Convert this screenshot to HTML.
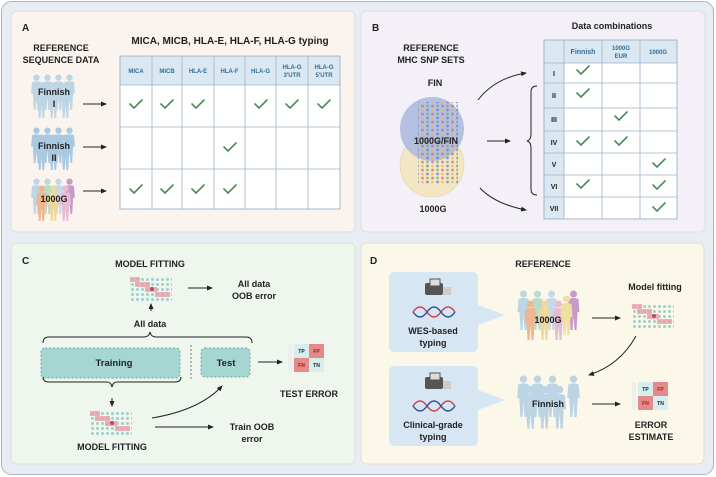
<!DOCTYPE html>
<html><head><meta charset="utf-8"><style>
html,body{margin:0;padding:0;background:#fff}
svg{display:block}
text{font-family:"Liberation Sans",sans-serif;font-weight:bold;fill:#222}
.h{font-size:10px}
.s{font-size:9px}
.th{font-size:6px;fill:#2f6f9a}
.ck{fill:none;stroke:#4c8c5c;stroke-width:1.6;stroke-linecap:round;stroke-linejoin:round}
.ln{stroke:#9fb3c8;stroke-width:0.8}
.ar{stroke:#222;stroke-width:1;fill:none;marker-end:url(#ah)}
</style></head><body>
<svg width="716" height="477" viewBox="0 0 716 477" xmlns="http://www.w3.org/2000/svg">
<defs>
<marker id="ah" markerWidth="6" markerHeight="6" refX="5" refY="3" orient="auto" markerUnits="userSpaceOnUse"><path d="M0,0.5 L6,3 L0,5.5 Z" fill="#222"/></marker>
<symbol id="p" viewBox="0 0 12 40"><circle cx="6" cy="4" r="3.5"/><path d="M1 9 Q6 7 11 9 L12 22 L10 22 L9 40 L7 40 L6 26 L5 40 L3 40 L2 22 L0 22 Z"/></symbol>
<pattern id="dots" width="5" height="5" patternUnits="userSpaceOnUse"><circle cx="2.5" cy="2.5" r="1.5" fill="#9fd0cc"/></pattern>
<pattern id="snp" width="10" height="8" patternUnits="userSpaceOnUse"><circle cx="2.5" cy="2" r="1.4" fill="#d45a9a"/><circle cx="7.5" cy="2" r="1.4" fill="#6ab06a"/><circle cx="2.5" cy="6" r="1.4" fill="#e0c040"/><circle cx="7.5" cy="6" r="1.4" fill="#7a6ad0"/></pattern>
<symbol id="mx" viewBox="0 0 42 24"><rect width="42" height="24" fill="url(#dots)"/><rect x="0" y="0" width="10" height="5" fill="#e8a0a8" opacity=".8"/><rect x="5" y="5" width="15" height="5" fill="#e8a0a8" opacity=".8"/><rect x="15" y="10" width="12" height="5" fill="#e8a0a8" opacity=".8"/><rect x="25" y="15" width="15" height="5" fill="#e8a0a8" opacity=".8"/><circle cx="22" cy="12" r="2" fill="#b05070"/></symbol>
<symbol id="cm" viewBox="0 0 36 34"><rect x="6" y="4" width="15" height="14" fill="#d7eef0"/><rect x="21" y="4" width="15" height="14" fill="#e58a8a"/><rect x="6" y="18" width="15" height="14" fill="#e58a8a"/><rect x="21" y="18" width="15" height="14" fill="#d7eef0"/><rect x="0" y="4" width="4" height="28" fill="#eee"/><text x="13.5" y="13" font-size="5" text-anchor="middle">TP</text><text x="28.5" y="13" font-size="5" text-anchor="middle" style="fill:#a02020">FP</text><text x="13.5" y="27" font-size="5" text-anchor="middle" style="fill:#a02020">FN</text><text x="28.5" y="27" font-size="5" text-anchor="middle">TN</text></symbol>
<symbol id="ck" viewBox="0 0 14 10"><path class="ck" d="M1 5 L5 9 L13 1"/></symbol>
</defs>
<rect x="1.5" y="1.5" width="712" height="473" rx="10" fill="#e8edf3" stroke="#a8b6c6"/>
<rect x="11" y="11" width="344" height="221" rx="6" fill="#fbf4ee" stroke="#e2ddd8"/>
<rect x="361" y="11" width="344" height="221" rx="6" fill="#f4f0f8" stroke="#e0dbe5"/>
<rect x="11" y="243" width="344" height="221" rx="6" fill="#eef6ee" stroke="#d9e3d9"/>
<rect x="361" y="243" width="343" height="221" rx="6" fill="#fbf8ea" stroke="#e3dfcd"/>

<text x="22" y="31" class="h">A</text>
<text x="230" y="44" class="h" text-anchor="middle">MICA, MICB, HLA-E, HLA-F, HLA-G typing</text>
<text x="61" y="51" class="s" text-anchor="middle">REFERENCE</text>
<text x="61" y="63" class="s" text-anchor="middle">SEQUENCE DATA</text>
<rect x="120" y="56" width="220" height="153" fill="#fff"/>
<rect x="120" y="56" width="220" height="29" fill="#dce8f1"/>
<g class="ln" fill="none"><rect x="120" y="56" width="220" height="153" stroke="#8fa8c0"/>
<path d="M120 85H340M120 127H340M120 169H340M152 56V209M182 56V209M214 56V209M245 56V209M276 56V209M308 56V209"/></g>
<g text-anchor="middle"><text x="136" y="73" class="th">MICA</text><text x="167" y="73" class="th">MICB</text><text x="198" y="73" class="th">HLA-E</text><text x="229.5" y="73" class="th">HLA-F</text><text x="260.5" y="73" class="th">HLA-G</text><text x="292" y="69" class="th">HLA-G</text><text x="292" y="77" class="th">3'UTR</text><text x="324" y="69" class="th">HLA-G</text><text x="324" y="77" class="th">5'UTR</text></g>
<use href="#ck" x="129" y="99" width="14" height="10"/><use href="#ck" x="160" y="99" width="14" height="10"/><use href="#ck" x="191" y="99" width="14" height="10"/><use href="#ck" x="254" y="99" width="14" height="10"/><use href="#ck" x="285" y="99" width="14" height="10"/><use href="#ck" x="317" y="99" width="14" height="10"/>
<use href="#ck" x="223" y="142" width="14" height="10"/>
<use href="#ck" x="129" y="184" width="14" height="10"/><use href="#ck" x="160" y="184" width="14" height="10"/><use href="#ck" x="191" y="184" width="14" height="10"/><use href="#ck" x="223" y="184" width="14" height="10"/>
<g fill="#bdd5e4"><use href="#p" x="31" y="74" width="11" height="36"/><use href="#p" x="42" y="74" width="11" height="36"/><use href="#p" x="53" y="74" width="11" height="36"/><use href="#p" x="64" y="74" width="11" height="36"/><use href="#p" x="36" y="82" width="11" height="36"/><use href="#p" x="48" y="82" width="11" height="36"/><use href="#p" x="60" y="82" width="11" height="36"/></g>
<g fill="#a9c9e2"><use href="#p" x="31" y="127" width="11" height="36"/><use href="#p" x="42" y="127" width="11" height="36"/><use href="#p" x="53" y="127" width="11" height="36"/><use href="#p" x="64" y="127" width="11" height="36"/><use href="#p" x="36" y="134" width="11" height="36"/><use href="#p" x="48" y="134" width="11" height="36"/><use href="#p" x="60" y="134" width="11" height="36"/></g>
<g><use href="#p" x="31" y="178" width="11" height="36" fill="#bcd6e6"/><use href="#p" x="42" y="178" width="11" height="36" fill="#b9dcc8"/><use href="#p" x="53" y="178" width="11" height="36" fill="#c7d9e8"/><use href="#p" x="64" y="178" width="11" height="36" fill="#c89ac8"/><use href="#p" x="36" y="185" width="11" height="36" fill="#eeb58f"/><use href="#p" x="48" y="185" width="11" height="36" fill="#f0d79a"/><use href="#p" x="60" y="185" width="11" height="36" fill="#e7bcd3"/></g>
<g text-anchor="middle" class="s"><text x="54" y="95">Finnish</text><text x="54" y="107">I</text><text x="54" y="149">Finnish</text><text x="54" y="161">II</text><text x="54" y="202">1000G</text></g>
<path class="ar" d="M83 104H106"/><path class="ar" d="M83 147H106"/><path class="ar" d="M83 191H106"/>

<text x="372" y="31" class="h">B</text>
<text x="612" y="29" class="s" text-anchor="middle">Data combinations</text>
<text x="431" y="51" class="s" text-anchor="middle">REFERENCE</text>
<text x="431" y="63" class="s" text-anchor="middle">MHC SNP SETS</text>
<text x="435" y="86" class="s" text-anchor="middle">FIN</text>
<circle cx="432" cy="165" r="32" fill="#f3e6c2" stroke="#e4d3a8" stroke-width=".6"/>
<circle cx="432" cy="129" r="32" fill="#a9b7df" fill-opacity=".85"/>
<rect x="418" y="102" width="40" height="82" fill="url(#snp)" opacity=".7"/>
<text x="436" y="144" class="s" text-anchor="middle">1000G/FIN</text>
<text x="433" y="212" class="s" text-anchor="middle">1000G</text>
<path class="ar" d="M478 100 Q495 78 526 73"/><path class="ar" d="M487 141H510"/><path class="ar" d="M480 188 Q495 204 526 210"/>
<path d="M537 86 Q531 86 531 92 V134 Q531 140 527 141 Q531 142 531 148 V189 Q531 195 537 195" fill="none" stroke="#222" stroke-width="1"/>
<rect x="544" y="40" width="133" height="179" fill="#fff"/>
<rect x="544" y="40" width="133" height="23" fill="#dce8f1"/>
<rect x="544" y="40" width="20" height="179" fill="#dce8f1"/>
<g class="ln" fill="none"><rect x="544" y="40" width="133" height="179" stroke="#8fa8c0"/><path d="M544 63H677M544 83H677M544 108H677M544 131H677M544 153H677M544 175H677M544 197H677M564 40V219M602 40V219M640 40V219"/></g>
<g text-anchor="middle"><text x="583" y="54" class="th" style="font-size:7px">Finnish</text><text x="621" y="50" class="th">1000G</text><text x="621" y="58" class="th">EUR</text><text x="658" y="54" class="th">1000G</text>
<g style="font-size:7px;font-weight:normal;fill:#557"><text x="554" y="76">I</text><text x="554" y="98">II</text><text x="554" y="122">III</text><text x="554" y="145">IV</text><text x="554" y="167">V</text><text x="554" y="189">VI</text><text x="554" y="211">VII</text></g></g>
<use href="#ck" x="576" y="65" width="14" height="10"/><use href="#ck" x="576" y="88" width="14" height="10"/><use href="#ck" x="614" y="111" width="14" height="10"/><use href="#ck" x="576" y="136" width="14" height="10"/><use href="#ck" x="614" y="136" width="14" height="10"/><use href="#ck" x="652" y="158" width="14" height="10"/><use href="#ck" x="576" y="179" width="14" height="10"/><use href="#ck" x="652" y="180" width="14" height="10"/><use href="#ck" x="652" y="202" width="14" height="10"/>

<text x="22" y="264" class="h">C</text>
<text x="150" y="267" class="s" text-anchor="middle">MODEL FITTING</text>
<use href="#mx" x="130" y="277" width="42" height="24"/>
<path class="ar" d="M188 288H212"/>
<text x="254" y="287" class="s" text-anchor="middle">All data</text>
<text x="254" y="299" class="s" text-anchor="middle">OOB error</text>
<path class="ar" d="M151 311V304"/>
<text x="150" y="327" class="s" text-anchor="middle">All data</text>
<path d="M43 343 Q43 337 49 337 H144 Q149 337 150 332 Q151 337 156 337 H246 Q252 337 252 343" fill="none" stroke="#222"/>
<rect x="41" y="348" width="139" height="30" rx="4" fill="#a6d6d2" stroke="#6aa9a4" stroke-dasharray="2 2"/>
<text x="114" y="366" class="s" text-anchor="middle" style="font-size:9.5px">Training</text>
<path d="M191 345V380" stroke="#777" stroke-dasharray="2 2"/>
<rect x="201" y="348" width="49" height="29" rx="4" fill="#a6d6d2" stroke="#6aa9a4" stroke-dasharray="2 2"/>
<text x="226" y="366" class="s" text-anchor="middle" style="font-size:9.5px">Test</text>
<path class="ar" d="M258 362H282"/>
<use href="#cm" x="288" y="340" width="36" height="34"/>
<text x="309" y="397" class="s" text-anchor="middle">TEST ERROR</text>
<path d="M43 377 Q43 382 49 382 H107 Q111 382 112 387 Q113 382 117 382 H175 Q181 382 181 377" fill="none" stroke="#222"/>
<path class="ar" d="M112 398V406"/>
<use href="#mx" x="90" y="411" width="42" height="24"/>
<text x="112" y="450" class="s" text-anchor="middle">MODEL FITTING</text>
<path class="ar" d="M152 418 Q200 410 222 386"/>
<path class="ar" d="M155 427H213"/>
<text x="252" y="430" class="s" text-anchor="middle">Train OOB</text>
<text x="252" y="442" class="s" text-anchor="middle">error</text>

<text x="370" y="264" class="h">D</text>
<text x="543" y="267" class="s" text-anchor="middle">REFERENCE</text>
<path d="M395 272H472Q478 272 478 278V305L505 315L478 325V346Q478 352 472 352H395Q389 352 389 346V278Q389 272 395 272Z" fill="#d6e6f3"/>
<path d="M395 366H472Q478 366 478 372V390L505 400L478 410V440Q478 446 472 446H395Q389 446 389 440V372Q389 366 395 366Z" fill="#d6e6f3"/>
<g><rect x="425" y="283" width="18" height="12" rx="2" fill="#555"/><rect x="430" y="279" width="10" height="7" fill="#ddd" stroke="#555"/><rect x="443" y="287" width="8" height="8" fill="#ccc"/>
<path d="M413 312 Q420 302 427 312 T441 312 T455 312" stroke="#d04050" fill="none" stroke-width="1.5"/><path d="M413 312 Q420 322 427 312 T441 312 T455 312" stroke="#3050a0" fill="none" stroke-width="1.5"/></g>
<g><rect x="425" y="377" width="18" height="12" rx="2" fill="#555"/><rect x="430" y="373" width="10" height="7" fill="#ddd" stroke="#555"/><rect x="443" y="381" width="8" height="8" fill="#ccc"/>
<path d="M413 406 Q420 396 427 406 T441 406 T455 406" stroke="#d04050" fill="none" stroke-width="1.5"/><path d="M413 406 Q420 416 427 406 T441 406 T455 406" stroke="#3050a0" fill="none" stroke-width="1.5"/></g>
<text x="433" y="334" class="s" text-anchor="middle">WES-based</text><text x="433" y="346" class="s" text-anchor="middle">typing</text>
<text x="433" y="428" class="s" text-anchor="middle">Clinical-grade</text><text x="433" y="440" class="s" text-anchor="middle">typing</text>
<g><use href="#p" x="517" y="290" width="13" height="40" fill="#bcd6e6"/><use href="#p" x="531" y="290" width="13" height="40" fill="#b9dcc8"/><use href="#p" x="545" y="290" width="13" height="40" fill="#c7d9e8"/><use href="#p" x="567" y="290" width="13" height="40" fill="#c89ac8"/><use href="#p" x="524" y="300" width="13" height="40" fill="#eeb58f"/><use href="#p" x="538" y="300" width="13" height="40" fill="#f0d79a"/><use href="#p" x="552" y="300" width="13" height="40" fill="#e7bcd3"/><use href="#p" x="560" y="295" width="13" height="40" fill="#f0e0a0"/></g>
<text x="548" y="323" class="s" text-anchor="middle">1000G</text>
<g fill="#bcd4e4"><use href="#p" x="517" y="375" width="13" height="42"/><use href="#p" x="531" y="375" width="13" height="42"/><use href="#p" x="546" y="375" width="13" height="42"/><use href="#p" x="567" y="375" width="13" height="42"/><use href="#p" x="524" y="385" width="13" height="44"/><use href="#p" x="538" y="385" width="13" height="44"/><use href="#p" x="553" y="385" width="13" height="44"/></g>
<text x="548" y="407" class="s" text-anchor="middle">Finnish</text>
<path class="ar" d="M592 318H620"/>
<text x="655" y="290" class="s" text-anchor="middle">Model fitting</text>
<use href="#mx" x="632" y="304" width="42" height="24"/>
<path class="ar" d="M636 336 Q620 365 589 375"/>
<path class="ar" d="M592 404H620"/>
<use href="#cm" x="632" y="378" width="36" height="34"/>
<text x="651" y="428" class="s" text-anchor="middle">ERROR</text>
<text x="651" y="440" class="s" text-anchor="middle">ESTIMATE</text>
</svg>
</body></html>
